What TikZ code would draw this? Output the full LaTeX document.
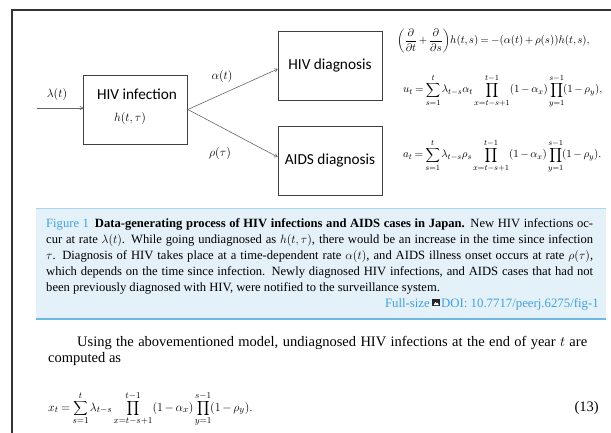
\documentclass[tikz,border=0pt]{standalone}
\usepackage{fontspec}
\setmainfont{Liberation Serif}
\newfontfamily\boxfont{Carlito}
\usetikzlibrary{arrows.meta,positioning}
\definecolor{framegray}{HTML}{333333}
\definecolor{capbg}{HTML}{E4F1F8}
\definecolor{captop}{HTML}{A9D5EE}
\definecolor{capbot}{HTML}{6DB9E3}
\definecolor{capblue}{HTML}{3FA2DD}
% tighter operator spacing, closer to the printed formulas
\newcommand{\tightmath}{\medmuskip=2.5mu\thickmuskip=3.5mu\thinmuskip=2mu}

\begin{document}
\begin{tikzpicture}[x=1pt,y=-1pt]%
        \tikzset{%
            box/.style={draw=black!75, line width=0.7pt, minimum width=104pt, minimum height=69pt, inner sep=0pt, font=\boxfont\fontsize{15.3}{17}\selectfont},
            boxtext/.style={inner sep=0pt, font=\boxfont\fontsize{15.3}{17}\selectfont},
            rate/.style={inner sep=0pt, font=\fontsize{13}{15}\selectfont},
            flow/.style={draw=black!60, line width=0.6pt, -{To[length=3.5pt,width=4pt]}},
            eqn/.style={inner sep=0pt, anchor=base west, font=\fontsize{11}{13}\selectfont\tightmath},
            body/.style={inner sep=0pt, font=\fontsize{14.5}{16.5}\selectfont},
            doiline/.style={inner sep=0pt, text=capblue, font=\fontsize{12.8}{14}\selectfont},
        }%
        \useasboundingbox (0,0) rectangle (611,433);
        % page frame
        \draw[framegray, line width=2pt] (12,433) -- (12,10) -- (611,10);
        % flow diagram
        \node[box] (infect) at (135.5,109.5) {};
        \node[boxtext, anchor=base] (infectlbl) at (137,100) {HIV infection};
        \node[rate, anchor=base] (infecth) at (130,122) {$h(t,\tau)$};
        \node[box] (hivdiag) at (330,65.5) {HIV diagnosis};
        \node[box] (aidsdiag) at (330,160.5) {AIDS diagnosis};
        \coordinate (src) at (37,108);
        \draw[flow] (src) -- (src -| infect.west);
        \draw[flow] (infect.east) -- ([yshift=-3.5pt]hivdiag.west);
        \draw[flow] (infect.east) -- ([yshift=3.5pt]aidsdiag.west);
        \node[rate, anchor=base] (lambdalbl) at (57,98) {$\lambda(t)$};
        \node[rate, anchor=base] (alphalbl) at (222,80) {$\alpha(t)$};
        \node[rate, anchor=base] (rholbl) at (220,157) {$\rho(\tau)$};
        % model equations
        \node[eqn] (eqpde) at (397,44) {$\displaystyle\left(\frac{\partial}{\partial t}+\frac{\partial}{\partial s}\right)\!h(t,s)=-(\alpha(t)+\rho(s))h(t,s),$};
        \node[eqn] (equt) at (403,93) {$\displaystyle u_t=\sum_{s=1}^{t}\lambda_{t-s}\alpha_t\prod_{x=t-s+1}^{t-1}(1-\alpha_x)\prod_{y=1}^{s-1}\!(1-\rho_y),$};
        \node[eqn] (eqat) at (403,158) {$\displaystyle a_t=\sum_{s=1}^{t}\lambda_{t-s}\rho_s\prod_{x=t-s+1}^{t-1}(1-\alpha_x)\prod_{y=1}^{s-1}\!(1-\rho_y).$};
        % caption
        \fill[capbg] (36,209) rectangle (606,319);
        \draw[captop, line width=1pt] (36,209) -- (606,209);
        \draw[capbot, line width=2pt] (36,319) -- (606,319);
        \node[inner sep=0pt, anchor=base west, text width=547pt, align=justify,
              font=\fontsize{12.6}{15.8}\selectfont] (caption) at (46,228) {%
            {\color{capblue}Figure 1}\hspace{6pt}\textbf{Data-generating process of HIV infections and AIDS cases in Japan.} New HIV infections oc-\linebreak
            cur at rate $\lambda(t)$. While going undiagnosed as $h(t,\tau)$, there would be an increase in the time since infection\linebreak
            $\tau$. Diagnosis of HIV takes place at a time-dependent rate $\alpha(t)$, and AIDS illness onset occurs at rate $\rho(\tau)$,\linebreak
            which depends on the time since infection. Newly diagnosed HIV infections, and AIDS cases that had not\linebreak
            been previously diagnosed with HIV, were notified to the surveillance system.};
        \node[doiline, anchor=base east] (fullsize) at (430,307) {Full-size};
        \node[doiline, anchor=base west] (doi) at (441,307) {DOI: 10.7717/peerj.6275/fig-1};
        \fill[black!85] (432,298.5) rectangle (440,306);
        \fill[white] (433.5,305) -- (435.5,302) -- (436.5,303.5) -- (437.5,302.5) -- (438.8,305) -- cycle;
        % body text
        \node[body, anchor=base west, text width=539pt, align=justify] (usingtxt) at (48,346) {%
            \hspace*{29pt}Using the abovementioned model, undiagnosed HIV infections at the end of year $t$ are\linebreak
            computed as};
        \node[inner sep=0pt, anchor=base west, font=\fontsize{12.3}{15}\selectfont\tightmath] (eqxt) at (48,411) {$\displaystyle x_t=\sum_{s=1}^{t}\lambda_{t-s}\prod_{x=t-s+1}^{t-1}(1-\alpha_x)\prod_{y=1}^{s-1}\!(1-\rho_y).$};
        \node[body, anchor=base east] (eqnum) at (599,411) {(13)};
    \end{tikzpicture}
\end{document}
